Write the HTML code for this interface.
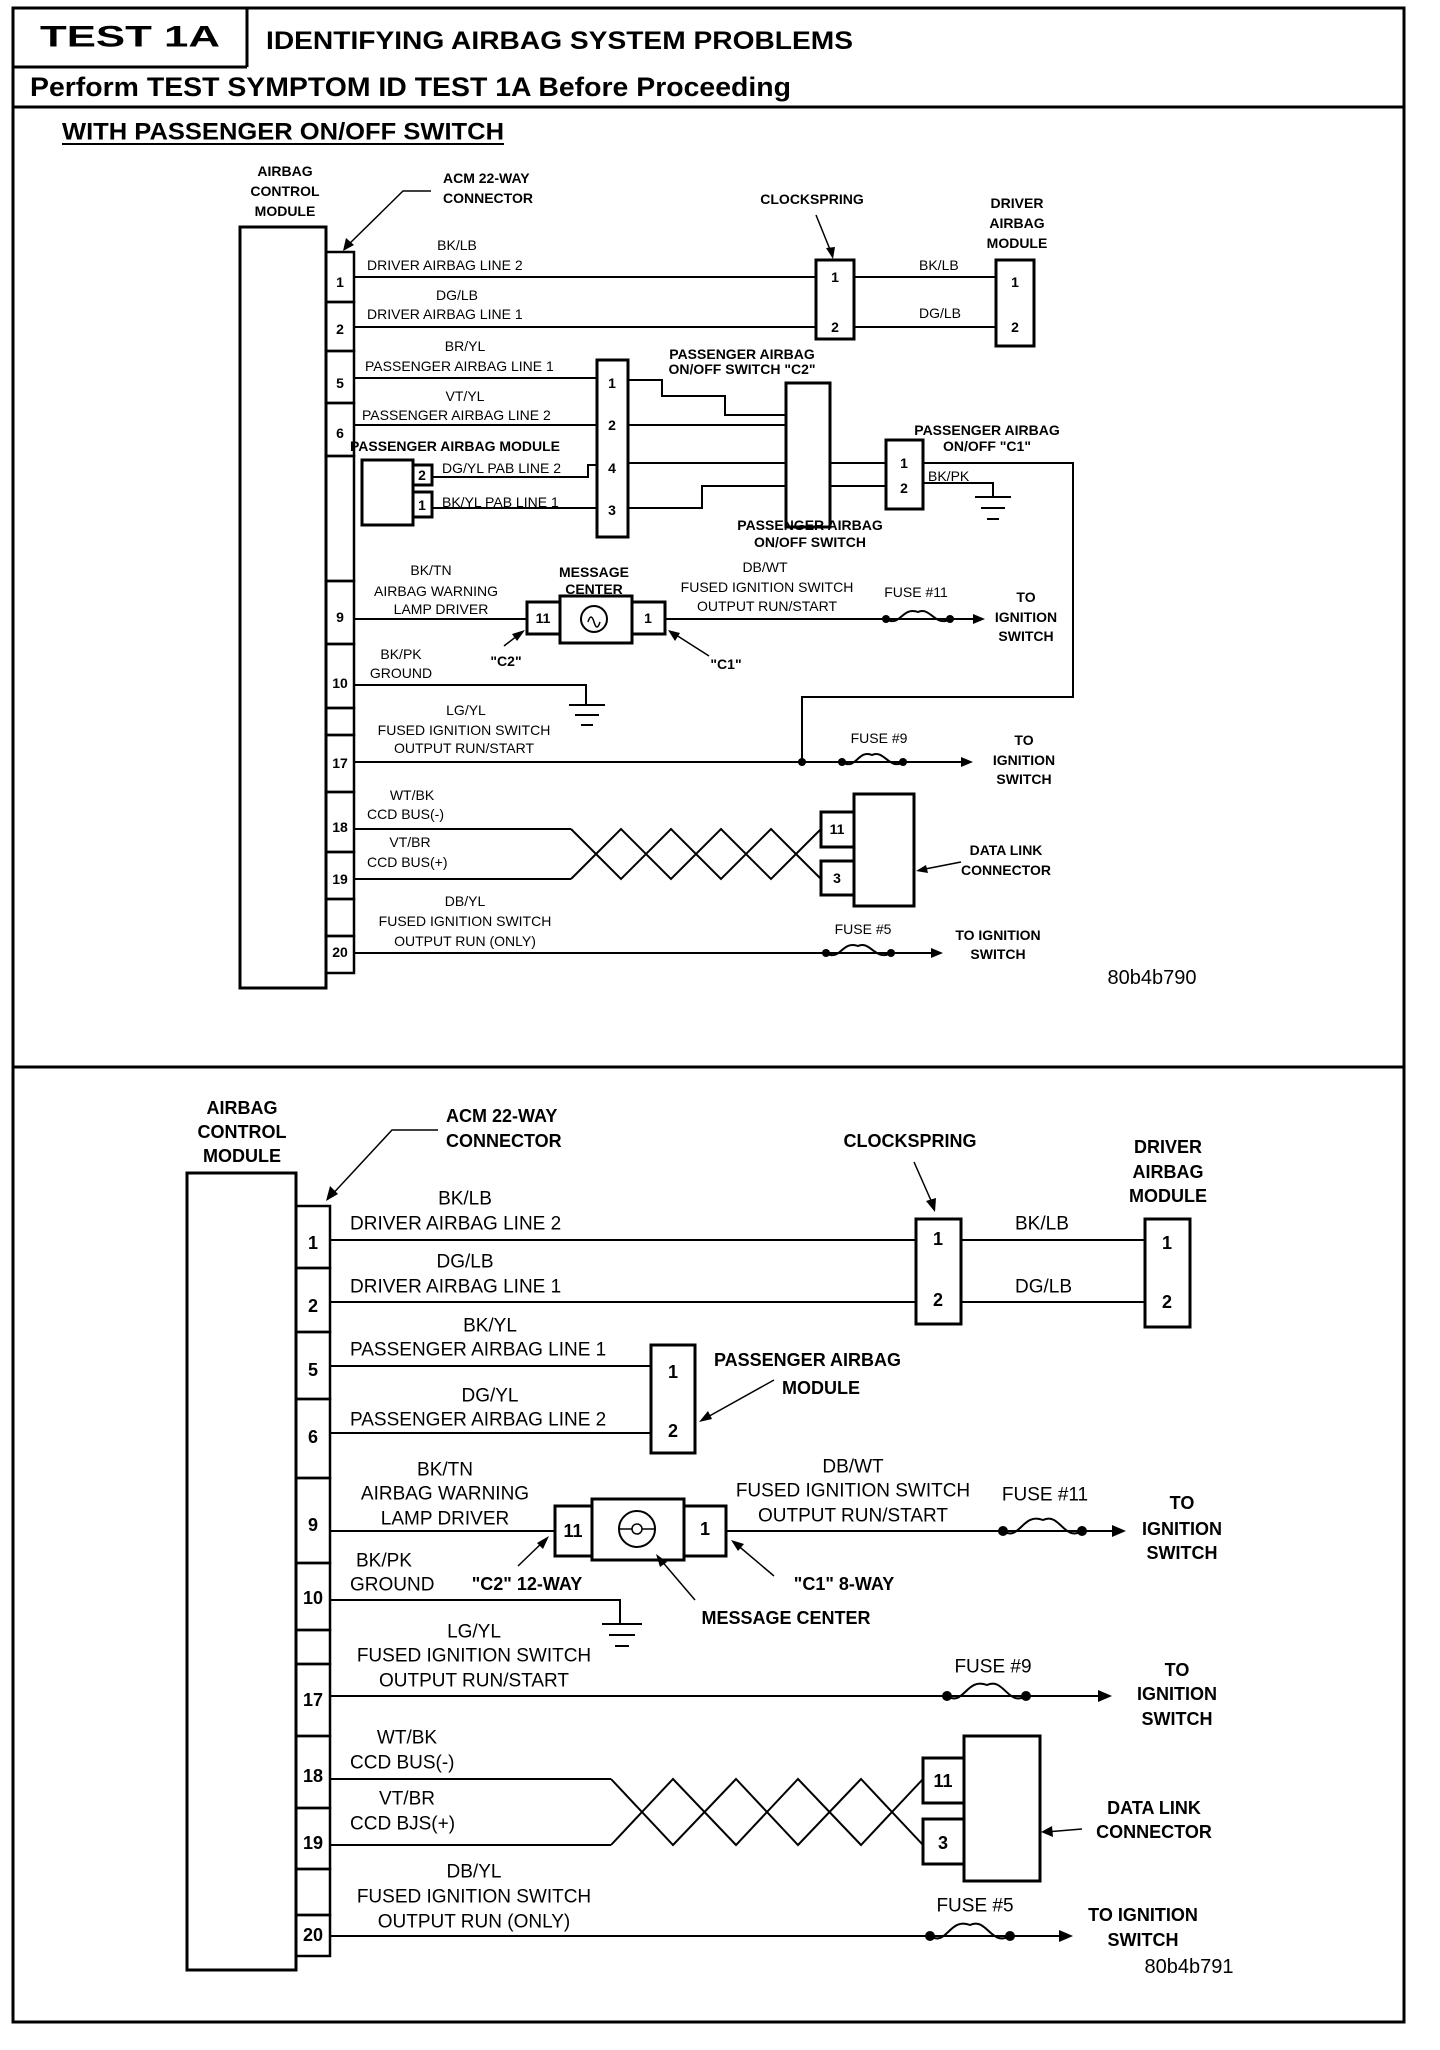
<!DOCTYPE html>
<html><head><meta charset="utf-8"><style>
html,body{margin:0;padding:0;background:#fff}
svg{display:block}
text{font-family:"Liberation Sans",Arial,sans-serif;fill:#000;dominant-baseline:central}
.s{font-size:14px}
.sb{font-size:14px;font-weight:bold}
.m{font-size:19px}
.mb{font-size:18px;font-weight:bold}
.c{text-anchor:middle}
</style></head><body>
<svg width="1440" height="2050" viewBox="0 0 1440 2050" xmlns="http://www.w3.org/2000/svg">
<g fill="none" stroke="#000">
<rect x="13" y="8" width="1391" height="2014" stroke-width="3"/>
<line x1="13" y1="67" x2="247" y2="67" stroke-width="3"/>
<line x1="247" y1="8" x2="247" y2="67" stroke-width="3"/>
<line x1="13" y1="107" x2="1404" y2="107" stroke-width="3"/>
<line x1="13" y1="1067" x2="1404" y2="1067" stroke-width="3"/>
<line x1="62" y1="144" x2="504" y2="144" stroke-width="2"/>
</g>
<text x="130" y="37" class="c" style="font-size:30px;font-weight:bold" textLength="180" lengthAdjust="spacingAndGlyphs">TEST 1A</text>
<text x="266" y="41" style="font-size:25px;font-weight:bold" textLength="587" lengthAdjust="spacingAndGlyphs">IDENTIFYING AIRBAG SYSTEM PROBLEMS</text>
<text x="30" y="87" style="font-size:27px;font-weight:bold" textLength="761" lengthAdjust="spacingAndGlyphs">Perform TEST SYMPTOM ID TEST 1A Before Proceeding</text>
<text x="62" y="132" style="font-size:24px;font-weight:bold" textLength="442" lengthAdjust="spacingAndGlyphs">WITH PASSENGER ON/OFF SWITCH</text>

<!-- ================= TOP DIAGRAM ================= -->
<g fill="none" stroke="#000">
<rect x="240" y="227" width="86" height="761" stroke-width="3"/>
<g stroke-width="2.5">
<rect x="326" y="252" width="28" height="50"/><rect x="326" y="302" width="28" height="49"/>
<rect x="326" y="351" width="28" height="52"/><rect x="326" y="403" width="28" height="53"/>
<rect x="326" y="456" width="28" height="125"/><rect x="326" y="581" width="28" height="63"/>
<rect x="326" y="644" width="28" height="64"/><rect x="326" y="708" width="28" height="27"/>
<rect x="326" y="735" width="28" height="57"/><rect x="326" y="792" width="28" height="60"/>
<rect x="326" y="852" width="28" height="47"/><rect x="326" y="899" width="28" height="37"/>
<rect x="326" y="936" width="28" height="37"/>
</g>
<polyline points="431,191 403,191 345,248" stroke-width="1.5"/>
<g stroke-width="2">
<line x1="354" y1="277" x2="816" y2="277"/><line x1="354" y1="327" x2="816" y2="327"/>
<line x1="854" y1="277" x2="996" y2="277"/><line x1="854" y1="327" x2="996" y2="327"/>
<line x1="354" y1="378" x2="597" y2="378"/><line x1="354" y1="425" x2="597" y2="425"/>
<polyline points="628,380 662,380 662,396 725,396 725,415 786,415"/>
<line x1="628" y1="425" x2="786" y2="425"/>
<line x1="628" y1="463" x2="786" y2="463"/>
<polyline points="628,508 702,508 702,486 786,486"/>
<line x1="830" y1="463" x2="886" y2="463"/><line x1="830" y1="486" x2="886" y2="486"/>
<polyline points="432,477 588,477 588,465 597,465"/>
<line x1="432" y1="508" x2="597" y2="508"/>
<polyline points="923,483 993,483 993,497"/>
<polyline points="923,463 1073,463 1073,697 802,697 802,762"/>
<line x1="354" y1="619" x2="527" y2="619"/>
<line x1="665" y1="619" x2="975" y2="619"/>
<polyline points="354,685 586,685 586,705"/>
<line x1="354" y1="762" x2="960" y2="762"/>
<line x1="354" y1="829" x2="571" y2="829"/><line x1="354" y1="879" x2="571" y2="879"/>
<polyline points="571,829 621,879 671,829 721,879 771,829 821,879"/>
<polyline points="571,879 621,829 671,879 721,829 771,879 821,829"/>
<line x1="354" y1="953" x2="930" y2="953"/>
</g>
<g stroke-width="2">
<line x1="975" y1="497" x2="1011" y2="497"/><line x1="981" y1="508" x2="1005" y2="508"/><line x1="987" y1="519" x2="999" y2="519"/>
<line x1="569" y1="705" x2="605" y2="705"/><line x1="575" y1="715" x2="599" y2="715"/><line x1="581" y1="725" x2="593" y2="725"/>
</g>
<g stroke-width="3">
<rect x="816" y="260" width="38" height="79"/>
<rect x="996" y="260" width="38" height="86"/>
<rect x="597" y="360" width="31" height="177"/>
<rect x="786" y="383" width="44" height="144"/>
<rect x="886" y="440" width="37" height="69"/>
<rect x="362" y="460" width="51" height="65"/>
<rect x="413" y="465" width="19" height="20"/>
<rect x="413" y="492" width="19" height="25"/>
<rect x="527" y="602" width="33" height="32"/>
<rect x="560" y="596" width="72" height="47"/>
<rect x="632" y="602" width="33" height="32"/>
<rect x="854" y="794" width="60" height="112"/>
<rect x="821" y="812" width="33" height="35"/>
<rect x="821" y="861" width="33" height="34"/>
</g>
<circle cx="594" cy="619" r="13" stroke-width="2"/>
<path d="M588 622 q3 -10 6 0 q3 10 6 0" stroke-width="1.5"/>
<g stroke-width="2">
<path d="M886 619 C900 628 902 606 918 612 C930 606 936 628 950 619"/>
<path d="M842 762 C856 771 858 749 872 755 C884 749 890 771 903 762"/>
<path d="M826 953 C840 962 842 940 858 946 C870 940 876 962 891 953"/>
<line x1="903" y1="762" x2="965" y2="762"/>
<line x1="891" y1="953" x2="935" y2="953"/>
<line x1="950" y1="619" x2="979" y2="619"/>
</g>
<g stroke-width="1.5">
<line x1="816" y1="215" x2="831" y2="252"/>
<line x1="504" y1="646" x2="522" y2="632"/>
<line x1="709" y1="656" x2="673" y2="633"/>
<line x1="961" y1="862" x2="920" y2="870"/>
</g>
</g>
<g fill="#000">
<polygon points="343,251 346,238 354,245"/>
<polygon points="833,259 826,248 835,247"/>
<polygon points="525,630 517,641 512,634"/>
<polygon points="668,630 680,633 675,641"/>
<polygon points="916,871 926,865 928,873"/>
<polygon points="985,619 973,614 973,624"/>
<polygon points="973,762 961,757 961,767"/>
<polygon points="943,953 931,948 931,958"/>
<circle cx="886" cy="619" r="4"/><circle cx="950" cy="619" r="4"/>
<circle cx="802" cy="762" r="4"/><circle cx="842" cy="762" r="4"/><circle cx="903" cy="762" r="4"/>
<circle cx="826" cy="953" r="4"/><circle cx="891" cy="953" r="4"/>
</g>
<text class="sb c" x="285" y="171">AIRBAG</text>
<text class="sb c" x="285" y="191">CONTROL</text>
<text class="sb c" x="285" y="211">MODULE</text>
<text class="sb" x="443" y="178">ACM 22-WAY</text>
<text class="sb" x="443" y="198">CONNECTOR</text>
<text class="sb c" x="812" y="199">CLOCKSPRING</text>
<text class="sb c" x="1017" y="203">DRIVER</text>
<text class="sb c" x="1017" y="223">AIRBAG</text>
<text class="sb c" x="1017" y="243">MODULE</text>
<text class="sb c" x="340" y="282">1</text><text class="sb c" x="340" y="329">2</text>
<text class="sb c" x="340" y="383">5</text><text class="sb c" x="340" y="433">6</text>
<text class="sb c" x="340" y="617">9</text><text class="sb c" x="340" y="683">10</text>
<text class="sb c" x="340" y="763">17</text><text class="sb c" x="340" y="827">18</text>
<text class="sb c" x="340" y="879">19</text><text class="sb c" x="340" y="952">20</text>
<text class="sb c" x="835" y="277">1</text><text class="sb c" x="835" y="327">2</text>
<text class="sb c" x="1015" y="282">1</text><text class="sb c" x="1015" y="327">2</text>
<text class="sb c" x="612" y="383">1</text><text class="sb c" x="612" y="425">2</text>
<text class="sb c" x="612" y="468">4</text><text class="sb c" x="612" y="510">3</text>
<text class="sb c" x="904" y="463">1</text><text class="sb c" x="904" y="488">2</text>
<text class="sb c" x="422" y="475">2</text><text class="sb c" x="422" y="505">1</text>
<text class="sb c" x="543" y="618">11</text><text class="sb c" x="648" y="618">1</text>
<text class="sb c" x="837" y="829">11</text><text class="sb c" x="837" y="878">3</text>
<text class="s c" x="457" y="245">BK/LB</text>
<text class="s" x="367" y="265">DRIVER AIRBAG LINE 2</text>
<text class="s c" x="457" y="295">DG/LB</text>
<text class="s" x="367" y="314">DRIVER AIRBAG LINE 1</text>
<text class="s" x="919" y="265">BK/LB</text>
<text class="s" x="919" y="313">DG/LB</text>
<text class="s c" x="465" y="346">BR/YL</text>
<text class="s" x="365" y="366">PASSENGER AIRBAG LINE 1</text>
<text class="s c" x="465" y="396">VT/YL</text>
<text class="s" x="362" y="415">PASSENGER AIRBAG LINE 2</text>
<text class="sb" x="350" y="446">PASSENGER AIRBAG MODULE</text>
<text class="s" x="442" y="468">DG/YL PAB LINE 2</text>
<text class="s" x="442" y="502">BK/YL PAB  LINE 1</text>
<text class="sb c" x="742" y="354">PASSENGER AIRBAG</text>
<text class="sb c" x="742" y="369">ON/OFF  SWITCH "C2"</text>
<text class="sb c" x="987" y="430">PASSENGER AIRBAG</text>
<text class="sb c" x="987" y="446">ON/OFF "C1"</text>
<text class="s" x="928" y="476">BK/PK</text>
<text class="sb c" x="810" y="525">PASSENGER AIRBAG</text>
<text class="sb c" x="810" y="542">ON/OFF SWITCH</text>
<text class="s c" x="431" y="570">BK/TN</text>
<text class="s c" x="436" y="591">AIRBAG WARNING</text>
<text class="s c" x="441" y="609">LAMP DRIVER</text>
<text class="sb c" x="594" y="572">MESSAGE</text>
<text class="sb c" x="594" y="589">CENTER</text>
<text class="s c" x="765" y="567">DB/WT</text>
<text class="s c" x="767" y="587">FUSED IGNITION SWITCH</text>
<text class="s c" x="767" y="606">OUTPUT RUN/START</text>
<text class="s c" x="916" y="592">FUSE #11</text>
<text class="sb c" x="1026" y="597">TO</text>
<text class="sb c" x="1026" y="617">IGNITION</text>
<text class="sb c" x="1026" y="636">SWITCH</text>
<text class="sb c" x="506" y="661">"C2"</text>
<text class="sb c" x="726" y="664">"C1"</text>
<text class="s c" x="401" y="654">BK/PK</text>
<text class="s c" x="401" y="673">GROUND</text>
<text class="s c" x="466" y="710">LG/YL</text>
<text class="s c" x="464" y="730">FUSED IGNITION SWITCH</text>
<text class="s c" x="464" y="748">OUTPUT RUN/START</text>
<text class="s c" x="879" y="738">FUSE #9</text>
<text class="sb c" x="1024" y="740">TO</text>
<text class="sb c" x="1024" y="760">IGNITION</text>
<text class="sb c" x="1024" y="779">SWITCH</text>
<text class="s c" x="412" y="795">WT/BK</text>
<text class="s" x="367" y="814">CCD BUS(-)</text>
<text class="s c" x="410" y="842">VT/BR</text>
<text class="s" x="367" y="862">CCD BUS(+)</text>
<text class="sb c" x="1006" y="850">DATA LINK</text>
<text class="sb c" x="1006" y="870">CONNECTOR</text>
<text class="s c" x="465" y="901">DB/YL</text>
<text class="s c" x="465" y="921">FUSED IGNITION SWITCH</text>
<text class="s c" x="465" y="941">OUTPUT RUN (ONLY)</text>
<text class="s c" x="863" y="929">FUSE #5</text>
<text class="sb c" x="998" y="935">TO IGNITION</text>
<text class="sb c" x="998" y="954">SWITCH</text>
<text class="c" x="1152" y="978" style="font-size:20px">80b4b790</text>

<!-- ================= BOTTOM DIAGRAM ================= -->
<g fill="none" stroke="#000">
<rect x="187" y="1173" width="109" height="797" stroke-width="3"/>
<g stroke-width="2.5">
<rect x="296" y="1206" width="34" height="62"/><rect x="296" y="1268" width="34" height="64"/>
<rect x="296" y="1332" width="34" height="67"/><rect x="296" y="1399" width="34" height="79"/>
<rect x="296" y="1478" width="34" height="85"/><rect x="296" y="1563" width="34" height="67"/>
<rect x="296" y="1630" width="34" height="34"/><rect x="296" y="1664" width="34" height="72"/>
<rect x="296" y="1736" width="34" height="72"/><rect x="296" y="1808" width="34" height="61"/>
<rect x="296" y="1869" width="34" height="46"/><rect x="296" y="1915" width="34" height="41"/>
</g>
<polyline points="438,1130 392,1130 328,1199" stroke-width="1.5"/>
<g stroke-width="2">
<line x1="330" y1="1240" x2="916" y2="1240"/><line x1="330" y1="1302" x2="916" y2="1302"/>
<line x1="961" y1="1240" x2="1145" y2="1240"/><line x1="961" y1="1302" x2="1145" y2="1302"/>
<line x1="330" y1="1366" x2="651" y2="1366"/><line x1="330" y1="1433" x2="651" y2="1433"/>
<line x1="330" y1="1531" x2="555" y2="1531"/>
<line x1="726" y1="1531" x2="1118" y2="1531"/>
<polyline points="330,1600 620,1600 620,1624"/>
<line x1="330" y1="1696" x2="1100" y2="1696"/>
<line x1="330" y1="1779" x2="611" y2="1779"/><line x1="330" y1="1845" x2="611" y2="1845"/>
<polyline points="611,1779 673,1845 736,1779 798,1845 861,1779 923,1845"/>
<polyline points="611,1845 673,1779 736,1845 798,1779 861,1845 923,1779"/>
<line x1="330" y1="1936" x2="1060" y2="1936"/>
<line x1="602" y1="1624" x2="642" y2="1624"/><line x1="609" y1="1635" x2="635" y2="1635"/><line x1="615" y1="1646" x2="629" y2="1646"/>
<path d="M1003 1531 C1020 1542 1022 1512 1043 1520 C1060 1512 1064 1542 1082 1531"/>
<path d="M947 1696 C964 1707 966 1677 987 1685 C1004 1677 1008 1707 1026 1696"/>
<path d="M930 1936 C947 1947 949 1917 970 1925 C987 1917 991 1947 1010 1936"/>
</g>
<g stroke-width="3">
<rect x="916" y="1219" width="45" height="105"/>
<rect x="1145" y="1219" width="45" height="108"/>
<rect x="651" y="1345" width="44" height="108"/>
<rect x="555" y="1506" width="37" height="50"/>
<rect x="592" y="1499" width="92" height="61"/>
<rect x="684" y="1506" width="42" height="50"/>
<rect x="964" y="1736" width="76" height="145"/>
<rect x="923" y="1758" width="41" height="45"/>
<rect x="923" y="1819" width="41" height="45"/>
</g>
<circle cx="637" cy="1529" r="18" stroke-width="2"/>
<line x1="619" y1="1529" x2="655" y2="1529" stroke-width="1.5"/>
<circle cx="637" cy="1529" r="5" stroke-width="1.5" fill="#fff"/>
<g stroke-width="1.5">
<line x1="914" y1="1162" x2="933" y2="1205"/>
<line x1="774" y1="1380" x2="704" y2="1419"/>
<line x1="518" y1="1566" x2="545" y2="1540"/>
<line x1="695" y1="1600" x2="660" y2="1559"/>
<line x1="774" y1="1576" x2="735" y2="1543"/>
<line x1="1082" y1="1829" x2="1046" y2="1832"/>
</g>
</g>
<g fill="#000">
<polygon points="326,1201 330,1186 338,1194"/>
<polygon points="935,1212 926,1201 936,1198"/>
<polygon points="699,1422 708,1411 712,1419"/>
<polygon points="549,1536 543,1549 537,1543"/>
<polygon points="656,1554 667,1562 660,1567"/>
<polygon points="731,1540 744,1544 738,1551"/>
<polygon points="1041,1832 1052,1826 1053,1837"/>
<polygon points="1126,1531 1112,1525 1112,1537"/>
<polygon points="1112,1696 1098,1690 1098,1702"/>
<polygon points="1073,1936 1059,1930 1059,1942"/>
<circle cx="1003" cy="1531" r="5"/><circle cx="1082" cy="1531" r="5"/>
<circle cx="947" cy="1696" r="5"/><circle cx="1026" cy="1696" r="5"/>
<circle cx="930" cy="1936" r="5"/><circle cx="1010" cy="1936" r="5"/>
</g>
<text class="mb c" x="242" y="1108">AIRBAG</text>
<text class="mb c" x="242" y="1132">CONTROL</text>
<text class="mb c" x="242" y="1156">MODULE</text>
<text class="mb" x="446" y="1116">ACM 22-WAY</text>
<text class="mb" x="446" y="1141">CONNECTOR</text>
<text class="mb c" x="910" y="1141">CLOCKSPRING</text>
<text class="mb c" x="1168" y="1147">DRIVER</text>
<text class="mb c" x="1168" y="1172">AIRBAG</text>
<text class="mb c" x="1168" y="1196">MODULE</text>
<text class="mb c" x="313" y="1243">1</text><text class="mb c" x="313" y="1306">2</text>
<text class="mb c" x="313" y="1370">5</text><text class="mb c" x="313" y="1437">6</text>
<text class="mb c" x="313" y="1525">9</text><text class="mb c" x="313" y="1598">10</text>
<text class="mb c" x="313" y="1700">17</text><text class="mb c" x="313" y="1776">18</text>
<text class="mb c" x="313" y="1843">19</text><text class="mb c" x="313" y="1935">20</text>
<text class="mb c" x="938" y="1239">1</text><text class="mb c" x="938" y="1300">2</text>
<text class="mb c" x="1167" y="1243">1</text><text class="mb c" x="1167" y="1302">2</text>
<text class="mb c" x="673" y="1372">1</text><text class="mb c" x="673" y="1431">2</text>
<text class="mb c" x="573" y="1531">11</text><text class="mb c" x="705" y="1529">1</text>
<text class="mb c" x="943" y="1781">11</text><text class="mb c" x="943" y="1843">3</text>
<text class="m c" x="465" y="1199">BK/LB</text>
<text class="m" x="350" y="1224">DRIVER AIRBAG LINE 2</text>
<text class="m c" x="465" y="1262">DG/LB</text>
<text class="m" x="350" y="1287">DRIVER AIRBAG LINE 1</text>
<text class="m" x="1015" y="1224">BK/LB</text>
<text class="m" x="1015" y="1287">DG/LB</text>
<text class="m c" x="490" y="1326">BK/YL</text>
<text class="m" x="350" y="1350">PASSENGER AIRBAG LINE 1</text>
<text class="m c" x="490" y="1396">DG/YL</text>
<text class="m" x="350" y="1420">PASSENGER AIRBAG LINE 2</text>
<text class="mb" x="714" y="1360">PASSENGER AIRBAG</text>
<text class="mb c" x="821" y="1388">MODULE</text>
<text class="m c" x="445" y="1470">BK/TN</text>
<text class="m c" x="445" y="1494">AIRBAG WARNING</text>
<text class="m c" x="445" y="1519">LAMP DRIVER</text>
<text class="m c" x="853" y="1467">DB/WT</text>
<text class="m c" x="853" y="1491">FUSED IGNITION SWITCH</text>
<text class="m c" x="853" y="1516">OUTPUT RUN/START</text>
<text class="m c" x="1045" y="1495">FUSE #11</text>
<text class="mb c" x="1182" y="1503">TO</text>
<text class="mb c" x="1182" y="1529">IGNITION</text>
<text class="mb c" x="1182" y="1553">SWITCH</text>
<text class="mb c" x="527" y="1584">"C2" 12-WAY</text>
<text class="mb c" x="786" y="1618">MESSAGE CENTER</text>
<text class="mb c" x="844" y="1584">"C1" 8-WAY</text>
<text class="m c" x="384" y="1561">BK/PK</text>
<text class="m" x="350" y="1585">GROUND</text>
<text class="m c" x="474" y="1632">LG/YL</text>
<text class="m c" x="474" y="1656">FUSED IGNITION SWITCH</text>
<text class="m c" x="474" y="1681">OUTPUT RUN/START</text>
<text class="m c" x="993" y="1667">FUSE #9</text>
<text class="mb c" x="1177" y="1670">TO</text>
<text class="mb c" x="1177" y="1694">IGNITION</text>
<text class="mb c" x="1177" y="1719">SWITCH</text>
<text class="m c" x="407" y="1738">WT/BK</text>
<text class="m" x="350" y="1763">CCD BUS(-)</text>
<text class="m c" x="407" y="1799">VT/BR</text>
<text class="m" x="350" y="1824">CCD BJS(+)</text>
<text class="mb c" x="1154" y="1808">DATA LINK</text>
<text class="mb c" x="1154" y="1832">CONNECTOR</text>
<text class="m c" x="474" y="1872">DB/YL</text>
<text class="m c" x="474" y="1897">FUSED IGNITION SWITCH</text>
<text class="m c" x="474" y="1922">OUTPUT RUN (ONLY)</text>
<text class="m c" x="975" y="1906">FUSE #5</text>
<text class="mb c" x="1143" y="1915">TO IGNITION</text>
<text class="mb c" x="1143" y="1940">SWITCH</text>
<text class="c" x="1189" y="1967" style="font-size:20px">80b4b791</text>
</svg>
</body></html>
